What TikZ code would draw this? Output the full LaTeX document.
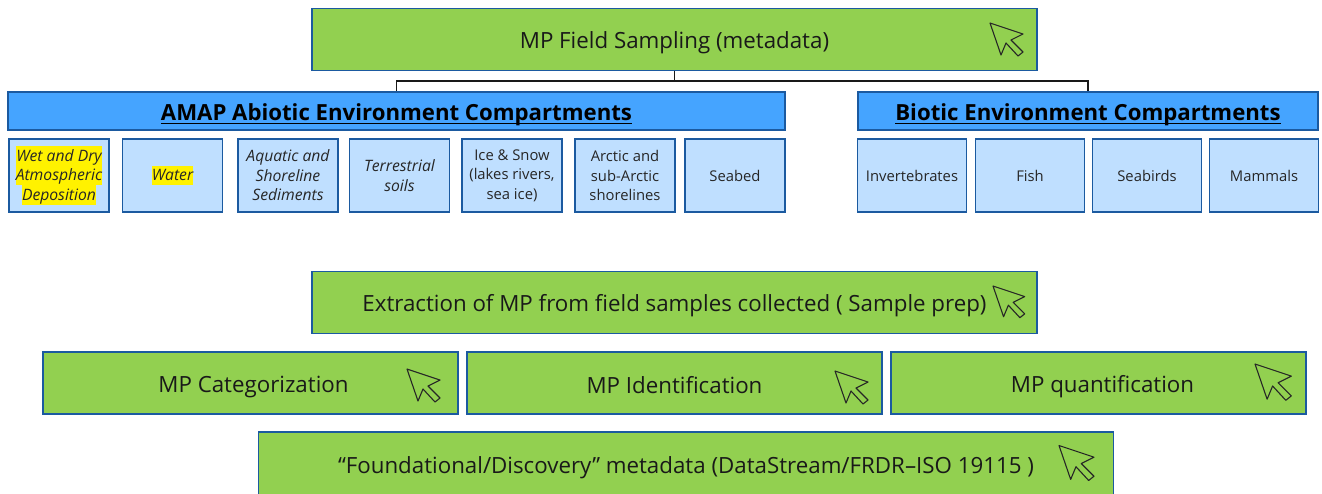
\documentclass[tikz,border=0pt]{standalone}
\usepackage{fontspec}
\setmainfont{Open Sans}
\definecolor{grn}{HTML}{92D050}
\definecolor{blu}{HTML}{45A4FF}
\definecolor{lblu}{HTML}{BFDFFF}
\definecolor{edge}{HTML}{1B5AA0}
\setlength{\fboxsep}{0pt}
\newcommand{\hlt}[1]{\colorbox{yellow}{\rule[-4.5pt]{0pt}{19.5pt}#1}}
\newcommand{\ulin}[1]{\sbox0{#1}\rlap{\rule[-3.5pt]{\wd0}{1.3pt}}\usebox0}
\newcommand{\bstrut}{\rule[-3pt]{0pt}{27pt}}
\tikzset{
 x=1pt,y=-1pt,
 greenbox/.style={draw=edge,line width=1.3pt,fill=grn,inner sep=0pt,font=\fontsize{22.3}{24}\selectfont,text=black!90},
 headbox/.style={draw=edge,line width=1.3pt,fill=blu,inner sep=0pt,font=\fontsize{22.2}{24}\selectfont\bfseries},
 subbox/.style={draw=edge,line width=1.3pt,fill=lblu,inner sep=0pt,minimum height=73pt,align=center,font=\fontsize{14.8}{19.5}\selectfont,text=black!85},
 ital/.style={font=\fontsize{15.7}{19.5}\selectfont\itshape},
 link/.style={draw=black!90,line width=1.6pt},
 arrowcur/.style={draw=black!85,line width=1.1pt,line join=round,fill=none},
}
\newcommand{\cursorat}[3]{\draw[arrowcur,shift={(#1,#2)},scale=#3] (0,0) -- (33,11) -- (21,17) -- (33,29) -- (28,33) -- (16,20) -- (11,32) -- cycle;}
\begin{document}
\begin{tikzpicture}
\useasboundingbox (0,0) rectangle (1322,493);
\node[greenbox,minimum width=725pt,minimum height=62pt] (top) at (674.5,39.5) {\bstrut MP Field Sampling (metadata)};
\node[headbox,minimum width=777pt,minimum height=38pt] (abio) at (396.5,111) {\bstrut\ulin{AMAP Abiotic Environment Compartments}};
\node[headbox,minimum width=460pt,minimum height=38pt] (bio) at (1088,111) {\bstrut\ulin{Biotic Environment Compartments}};
\coordinate (bus) at (674.5,81);
\draw[link] (top.south) -- (bus) -| (abio.north);
\draw[link] (bus) -| (bio.north);
\node[subbox,minimum width=100pt,ital] (s1) at (59,175.5) {\hlt{Wet and Dry}\\\hlt{Atmospheric}\\\hlt{Deposition}};
\node[subbox,minimum width=100pt,ital] (s2) at (172.5,175.5) {\hlt{Water}};
\node[subbox,minimum width=100pt,ital] (s3) at (288,175.5) {Aquatic and\\Shoreline\\Sediments};
\node[subbox,minimum width=100pt,ital] (s4) at (399.5,175.5) {Terrestrial\\soils};
\node[subbox,minimum width=100pt] (s5) at (512,175.5) {Ice \& Snow\\(lakes rivers,\\sea ice)};
\node[subbox,minimum width=100pt] (s6) at (625,175.5) {Arctic and\\sub-Arctic\\shorelines};
\node[subbox,minimum width=100pt] (s7) at (735,175.5) {Seabed};
\node[subbox,minimum width=109pt] (b1) at (912,175.5) {Invertebrates};
\node[subbox,minimum width=109pt] (b2) at (1030,175.5) {Fish};
\node[subbox,minimum width=109pt] (b3) at (1147,175.5) {Seabirds};
\node[subbox,minimum width=109pt] (b4) at (1264,175.5) {Mammals};
\node[greenbox,minimum width=725pt,minimum height=62pt] (ext) at (674.5,302.5) {\bstrut Extraction of MP from field samples collected ( Sample prep)};
\node[greenbox,minimum width=415pt,minimum height=62pt] (cat) at (250.5,383) {\bstrut\hspace*{6pt}MP Categorization};
\node[greenbox,minimum width=415pt,minimum height=62pt] (idn) at (674.5,383) {\bstrut MP Identification};
\node[greenbox,minimum width=415pt,minimum height=62pt] (qnt) at (1098.5,383) {\bstrut\hspace*{8pt}MP quantification};
\node[greenbox,minimum width=855pt,minimum height=64pt] (fnd) at (686,464) {\bstrut “Foundational/Discovery” metadata (DataStream/FRDR–ISO 19115 )};
\cursorat{990}{23}{1}
\cursorat{993}{286}{0.96}
\cursorat{407}{369}{1}
\cursorat{835}{371}{1}
\cursorat{1255}{364}{1.1}
\cursorat{1059}{445.5}{1.06}
\end{tikzpicture}
\end{document}
